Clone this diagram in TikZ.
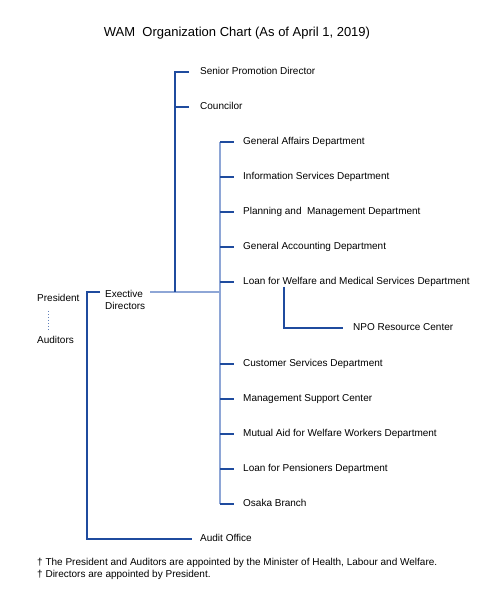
\documentclass[tikz,border=0pt]{standalone}
\usepackage{fontspec}
\setmainfont{Liberation Sans}
\definecolor{wamblue}{HTML}{1F4B9E}
\definecolor{wamlight}{HTML}{8EA6D6}
\begin{document}
\begin{tikzpicture}[
  x=1pt, y=-1pt,
  every node/.style={
    anchor=west,
    inner sep=0pt,
    text height=7.5pt,
    text depth=2pt,
    font=\fontsize{10}{12}\selectfont
  },
  trunk/.style={wamblue, line width=1.4pt},
  branch/.style={wamlight, line width=1.4pt},
  tick/.style={wamblue, line width=1.4pt}
]
\useasboundingbox[fill=white] (0,0) rectangle (500,607);
\node (title) [anchor=center, font=\fontsize{13}{15}\selectfont] at (237,34) {WAM\ \ Organization Chart (As of April 1, 2019)};
\node (president) at (37,299) {President};
\node (auditors) at (37,341) {Auditors};
\node (exec) [align=left, text height=, text depth=] at (105,300) {Exective\\Directors};
\node (senior) at (200,72) {Senior Promotion Director};
\node (councilor) at (200,107) {Councilor};
\node (general) at (243,142) {General Affairs Department};
\node (info) at (243,177) {Information Services Department};
\node (planning) at (243,212) {Planning and\ \ Management Department};
\node (accounting) at (243,247) {General Accounting Department};
\node (loan) at (243,282) {Loan for Welfare and Medical Services Department};
\node (npo) at (353,328) {NPO Resource Center};
\node (customer) at (243,364) {Customer Services Department};
\node (support) at (243,399) {Management Support Center};
\node (mutual) at (243,434) {Mutual Aid for Welfare Workers Department};
\node (pension) at (243,469) {Loan for Pensioners Department};
\node (osaka) at (243,504) {Osaka Branch};
\node (audit) at (200,539) {Audit Office};
\node (note1) at (37,563) {† The President and Auditors are appointed by the Minister of Health, Labour and Welfare.};
\node (note2) at (37,575) {† Directors are appointed by President.};
% hubs
\coordinate (presHub) at (87,292);
\coordinate (hub) at (175,292);
\coordinate (deptHub) at (220,292);
% president and auditors
\draw[wamblue!70, dotted, line width=1pt, shorten <=7pt, shorten >=6pt] ([xshift=11pt]president.south west) -- ([xshift=11pt]auditors.north west);
\draw[trunk] ([xshift=-5pt]exec.west |- presHub) -- (presHub) |- ([xshift=-8pt]audit.west);
% executive directors
\draw[branch] ([xshift=5pt]exec.east |- deptHub) -- (deptHub);
\draw[trunk] ([xshift=-11pt]senior.west) -| (hub);
\draw[trunk] ([xshift=-11pt]councilor.west) -- (councilor.west -| hub);
% departments
\draw[branch] (general.west -| deptHub) -- (osaka.west -| deptHub);
\foreach \d in {general,info,planning,accounting,loan,customer,support,mutual,pension,osaka}
  \draw[tick] (\d.west -| deptHub) -- ([xshift=-9pt]\d.west);
\draw[tick] ([xshift=41pt]loan.south west) |- ([xshift=-10pt]npo.west);
\end{tikzpicture}
\end{document}
